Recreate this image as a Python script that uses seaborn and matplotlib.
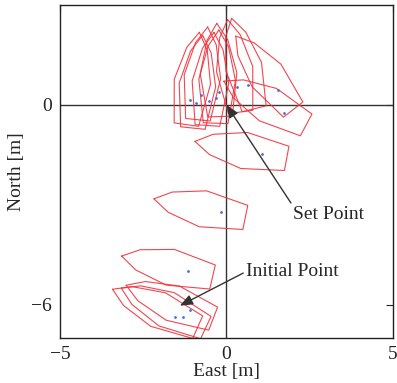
import numpy as np
import pandas as pd
import matplotlib
matplotlib.use("Agg")
import matplotlib.pyplot as plt
import seaborn as sns

# vessel poses (position of the reference point + heading, deg CCW from East)
east = [-1.55, -1.30, -1.10, -1.15, -0.17, 1.07, 1.73, 1.54, 0.65, 0.32,
        -0.22, -0.30, -0.52, -0.78, -0.93, -1.10]
north = [-6.37, -6.37, -6.15, -5.00, -3.23, -1.47, -0.25, 0.45, 0.61, 0.53,
         0.40, 0.20, 0.13, 0.30, 0.05, 0.15]
heading = [156, 155, 159, 167, 168.5, 169.5, 152, 128, 104, 98,
           92, 88, 86, 84, 84, 82]

# hull outline in body frame (forward, port), origin at reference point
hull_fwd = [2.05, 1.55, 0.55, -0.75, -0.75, 0.55, 1.55, 2.05]
hull_side = [0.0, 0.31, 0.55, 0.37, -0.37, -0.55, -0.31, 0.0]

x_ticks = [-5, 0, 5]
y_ticks = [-6, 0]

rows = []
for k, (e, n, h) in enumerate(zip(east, north, heading)):
    c, s = np.cos(np.radians(h)), np.sin(np.radians(h))
    for j, (f, p) in enumerate(zip(hull_fwd, hull_side)):
        rows.append({"ship": k, "order": j,
                     "East": e + f * c - p * s,
                     "North": n + f * s + p * c})
hull_df = pd.DataFrame(rows)
pos_df = pd.DataFrame({"East": east, "North": north})

sns.set_style("white")
plt.rcParams["font.family"] = ["Liberation Serif", "DejaVu Serif"]

fig = plt.figure(figsize=(3.97, 3.83), dpi=100)
ax = fig.add_axes([0.151, 0.1175, 0.839, 0.8695])

ax.axhline(0, color="#333333", lw=1.0, zorder=1)
ax.axvline(0, color="#333333", lw=1.0, zorder=1)

sns.lineplot(data=hull_df, x="East", y="North", units="ship", estimator=None,
             sort=False, color="#f0323c", lw=0.8, alpha=0.9, ax=ax, zorder=2)
sns.scatterplot(data=pos_df, x="East", y="North", color="#4a6ee0", s=4,
                linewidth=0, ax=ax, zorder=3)

arrow = dict(arrowstyle="-|>,head_length=0.55,head_width=0.22", color="#333333",
             lw=1.0, shrinkA=0, shrinkB=0)
ax.annotate("Set Point", xy=(0, 0), xytext=(2.0, -3.3), fontsize=14,
            ha="left", va="center", arrowprops=dict(arrow, relpos=(0.0, 1.0)))
ax.annotate("Initial Point", xy=(-1.4, -6.03), xytext=(0.6, -5.0), fontsize=14,
            ha="left", va="center", arrowprops=dict(arrow, relpos=(0.0, 0.5)))

ax.set_xlim(-5, 5)
ax.set_ylim(-7, 3)
ax.set_xticks(x_ticks)
ax.set_yticks(y_ticks)
ax.set_xticklabels(["\u22125", "0", "5"])
ax.set_yticklabels(["\u22126", "0"])
ax.tick_params(direction="in", length=5, width=0.8, labelsize=14, pad=6,
               top=True, right=True, colors="#222222")
ax.set_xlabel("East [m]", fontsize=14, labelpad=0)
ax.set_ylabel("North [m]", fontsize=14, labelpad=4)
for sp in ax.spines.values():
    sp.set_color("#222222")
    sp.set_linewidth(1.0)

fig.savefig("out.png", dpi=100)
